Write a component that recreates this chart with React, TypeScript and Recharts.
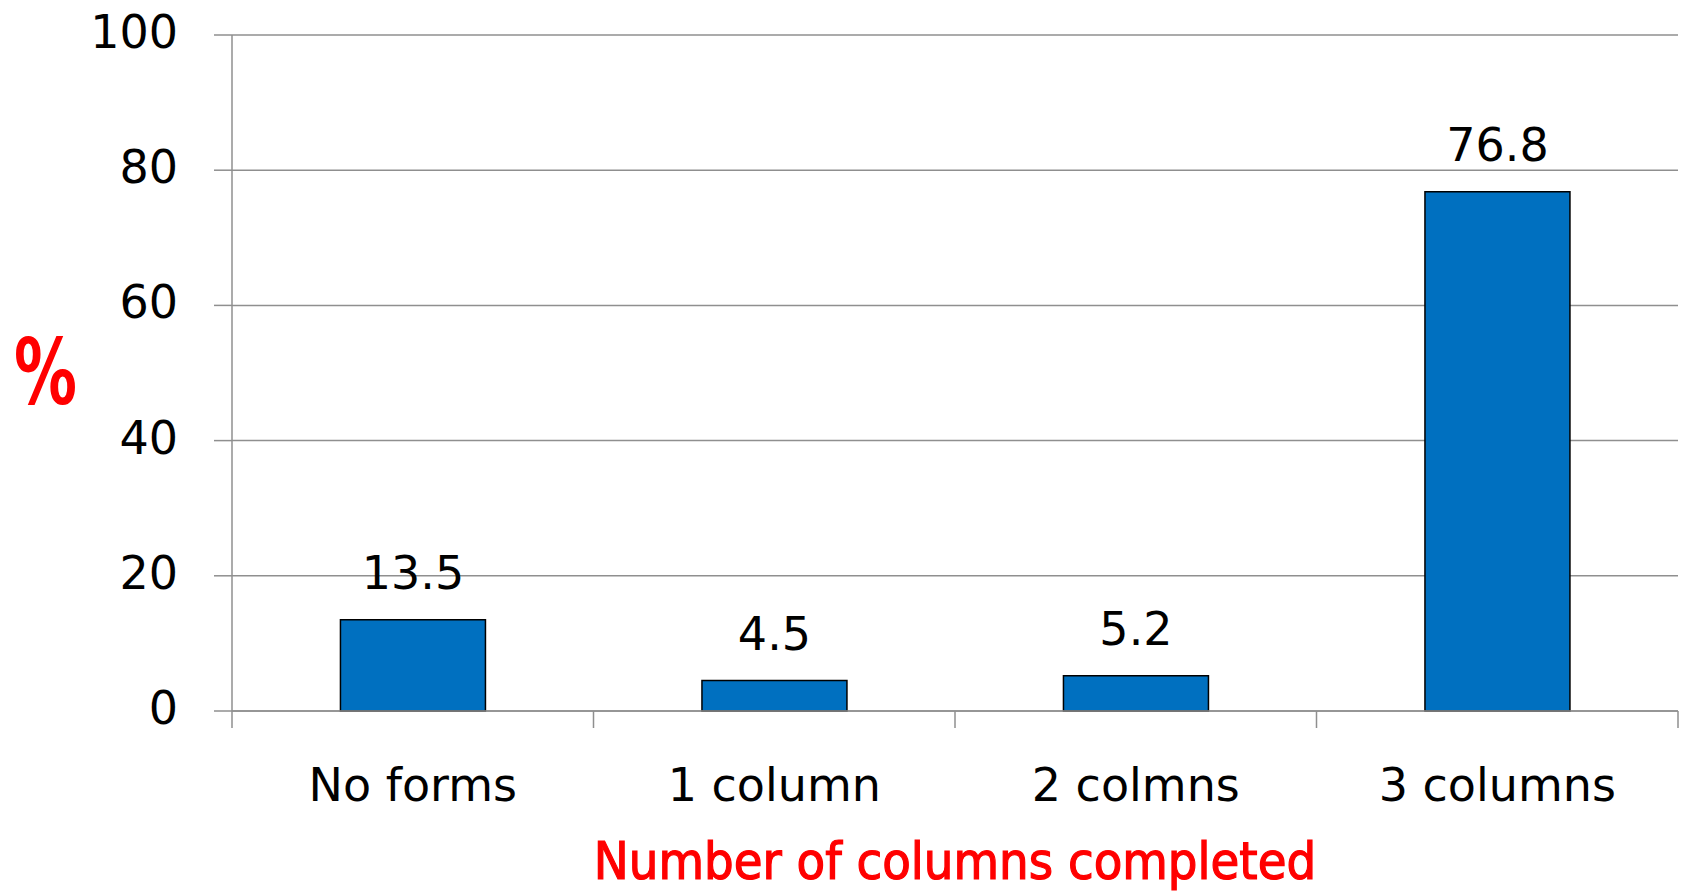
import { BarChart, Bar, XAxis, YAxis, CartesianGrid, LabelList } from 'recharts'

const categories = ['No forms', '1 column', '2 colmns', '3 columns']
const percents = [13.5, 4.5, 5.2, 76.8]
const yTicks = [0, 20, 40, 60, 80, 100]

const data = categories.map((name, i) => ({ name, value: percents[i] }))

const FONT = '"DejaVu Sans", sans-serif'
const GRID = '#8f8f8f'

function YTick(props: any) {
  const { x, y, payload } = props
  return (
    <text x={x} y={y} dy={13} textAnchor="end" fontFamily={FONT} fontSize={46} fill="#000">
      {payload.value}
    </text>
  )
}

function XTick(props: any) {
  const { x, y, payload, index, visibleTicksCount } = props
  const half = payload.offset || 180.8
  const last = index === (visibleTicksCount ?? categories.length) - 1
  return (
    <g>
      <line x1={x - half} y1={y} x2={x - half} y2={y + 17} stroke={GRID} strokeWidth={1.5} />
      {last && <line x1={x + half} y1={y} x2={x + half} y2={y + 17} stroke={GRID} strokeWidth={1.5} />}
      <text x={x} y={y + 90} textAnchor="middle" fontFamily={FONT} fontSize={46} fill="#000">
        {payload.value}
      </text>
    </g>
  )
}

// narrow bold "%" to the left of the value axis
function PercentLabel(props: any) {
  const vb = props.viewBox || { x: 0, y: 35, width: 232, height: 676 }
  return (
    <text
      x={vb.x + 14}
      y={vb.y + vb.height / 2 + 31}
      fill="#ff0000"
      fontSize={90}
      fontWeight={700}
      fontFamily={FONT}
      textLength={63}
      lengthAdjust="spacingAndGlyphs"
    >
      %
    </text>
  )
}

export default function App() {
  return (
    <div style={{ position: 'absolute', left: 0, top: 0, background: '#fff' }}>
      <BarChart
        width={1681}
        height={891}
        data={data}
        margin={{ top: 35, right: 3, left: 0, bottom: 0 }}
        barCategoryGap="30%"
      >
        <CartesianGrid vertical={false} stroke={GRID} strokeWidth={1.5} />
        <XAxis
          dataKey="name"
          height={180}
          tick={<XTick />}
          tickLine={false}
          tickSize={0}
          tickMargin={0}
          interval={0}
          axisLine={{ stroke: GRID, strokeWidth: 1.5 }}
          label={{
            value: 'Number of columns completed',
            position: 'insideBottom',
            offset: 12,
            fill: '#ff0000',
            stroke: '#ff0000',
            strokeWidth: 1.2,
            fontSize: 52,
            fontFamily: '"DejaVu Sans Condensed", "DejaVu Sans", sans-serif',
          }}
        />
        <YAxis
          width={232}
          domain={[0, 100]}
          ticks={yTicks}
          interval={0}
          tick={<YTick />}
          tickSize={18}
          tickMargin={36}
          tickLine={{ stroke: GRID, strokeWidth: 1.5 }}
          axisLine={{ stroke: GRID, strokeWidth: 1.5 }}
          label={<PercentLabel />}
        />
        <Bar dataKey="value" fill="#0070c0" stroke="#000" strokeWidth={1.5} isAnimationActive={false}>
          <LabelList
            dataKey="value"
            position="top"
            offset={31}
            fill="#000"
            fontSize={46}
            fontFamily={FONT}
          />
        </Bar>
      </BarChart>
    </div>
  )
}
